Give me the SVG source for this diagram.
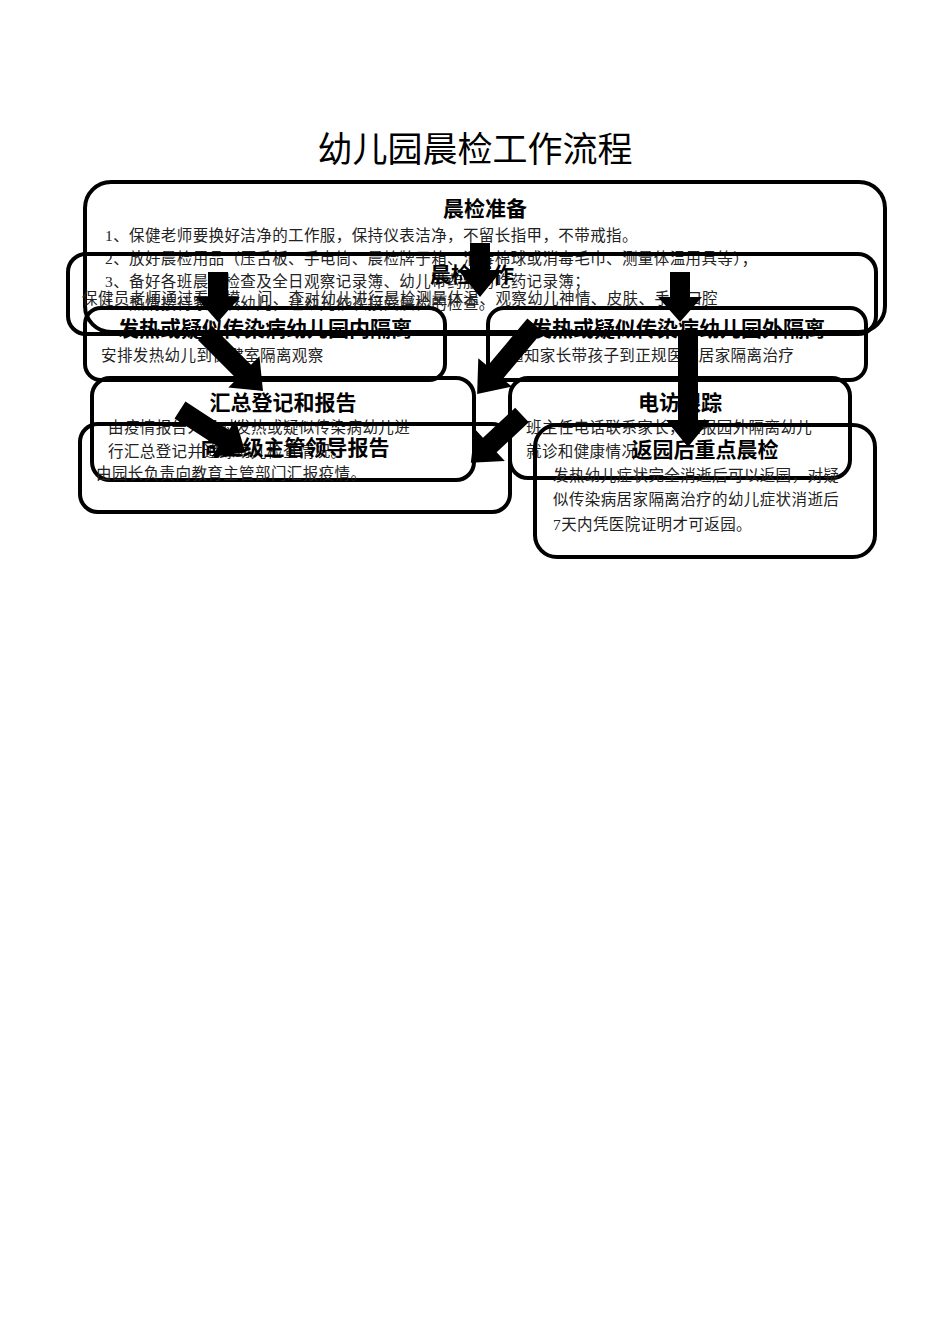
<svg xmlns="http://www.w3.org/2000/svg" width="950" height="1344" viewBox="0 0 950 1344">
<style>
.b{fill:none;stroke:#000;stroke-width:4}
.t{font-family:"Liberation Serif","Noto Sans CJK SC",serif;font-size:15.5px;letter-spacing:0.4px;fill:#222}
.h{font-family:"Noto Sans CJK SC",sans-serif;font-size:21px;font-weight:bold;fill:#000;text-anchor:middle}
.a{fill:#000}
</style>
<rect width="950" height="1344" fill="#fff"/>
<text x="475" y="162" text-anchor="middle" style="font-family:'Noto Sans CJK SC',sans-serif;font-size:35px;fill:#000">幼儿园晨检工作流程</text>
<g id="n1"><rect class="b" x="85" y="182" width="800" height="150" rx="26"/>
<text class="h" x="485" y="216">晨检准备</text>
<text class="t" x="105" y="241">1、保健老师要换好洁净的工作服，保持仪表洁净，不留长指甲，不带戒指。</text>
<text class="t" x="105" y="264">2、放好晨检用品（压舌板、手电筒、晨检牌于箱、消毒棉球或消毒毛巾、测量体温用具等）；</text>
<text class="t" x="105" y="287">3、备好各班晨间检查及全日观察记录簿、幼儿带药服药吃药记录簿；</text></g>
<g id="n2"><rect class="b" x="68" y="254" width="808" height="80" rx="18"/>
<text class="h" x="472" y="282">晨检工作</text>
<text class="t" x="82" y="304">保健员老师通过看、摸、问、查对幼儿进行晨检测量体温、观察幼儿神情、皮肤、手、口腔</text>
<text class="t" x="105" y="309">1、热情接待家长及幼儿，让幼儿依次接受晨检的检查。</text></g>
<g id="n3"><rect class="b" x="85" y="308" width="360" height="72" rx="16"/>
<text class="h" x="265" y="336">发热或疑似传染病幼儿园内隔离</text>
<text class="t" x="101" y="361">安排发热幼儿到保健室隔离观察</text></g>
<g id="n4"><rect class="b" x="488" y="308" width="378" height="72" rx="16"/>
<text class="h" x="678" y="336">发热或疑似传染病幼儿园外隔离</text>
<text class="t" x="508" y="361">通知家长带孩子到正规医院居家隔离治疗</text></g>
<g id="n5"><rect class="b" x="92" y="378" width="382" height="102" rx="18"/>
<text class="h" x="283" y="410">汇总登记和报告</text>
<text class="t" x="108" y="433">由疫情报告人员对发热或疑似传染病幼儿进</text>
<text class="t" x="108" y="457">行汇总登记并追踪幼儿检查情况。</text></g>
<g id="n6"><rect class="b" x="510" y="378" width="340" height="100" rx="18"/>
<text class="h" x="680" y="410">电访跟踪</text>
<text class="t" x="526" y="433">班主任电话联系家长，汇报园外隔离幼儿</text>
<text class="t" x="526" y="457">就诊和健康情况。</text></g>
<g id="n7"><rect class="b" x="80" y="424" width="430" height="88" rx="18"/>
<text class="h" x="295" y="455">向上级主管领导报告</text>
<text class="t" x="96" y="479">由园长负责向教育主管部门汇报疫情。</text></g>
<g id="n8"><rect class="b" x="535" y="425" width="340" height="132" rx="22"/>
<text class="h" x="705" y="457">返园后重点晨检</text>
<text class="t" x="553" y="481">发热幼儿症状完全消逝后可以返园，对疑</text>
<text class="t" x="553" y="505">似传染病居家隔离治疗的幼儿症状消逝后</text>
<text class="t" x="553" y="530">7天内凭医院证明才可返园。</text></g>
<g id="connectors">
<polygon class="a" transform="translate(480,243)" points="-10,0 10,0 10,27 22,27 0,54 -22,27 -10,27"/>
<polygon class="a" transform="translate(218,272)" points="-10,0 10,0 10,25 22,25 0,50 -22,25 -10,25"/>
<polygon class="a" transform="translate(680,272)" points="-10,0 10,0 10,25 22,25 0,50 -22,25 -10,25"/>
<polygon class="a" transform="translate(205,333) rotate(-45)" points="-10,0 10,0 10,55 22,55 0,82 -22,55 -10,55"/>
<polygon class="a" transform="translate(535,325) rotate(40)" points="-10,0 10,0 10,62 22,62 0,90 -22,62 -10,62"/>
<polygon class="a" transform="translate(688,330)" points="-10,0 10,0 10,90 22,90 0,117 -22,90 -10,90"/>
<polygon class="a" transform="translate(180,410) rotate(-57)" points="-10,0 10,0 10,52 22,52 0,78 -22,52 -10,52"/>
<polygon class="a" transform="translate(522,415) rotate(47)" points="-10,0 10,0 10,44 22,44 0,70 -22,44 -10,44"/>
</g>
</svg>
